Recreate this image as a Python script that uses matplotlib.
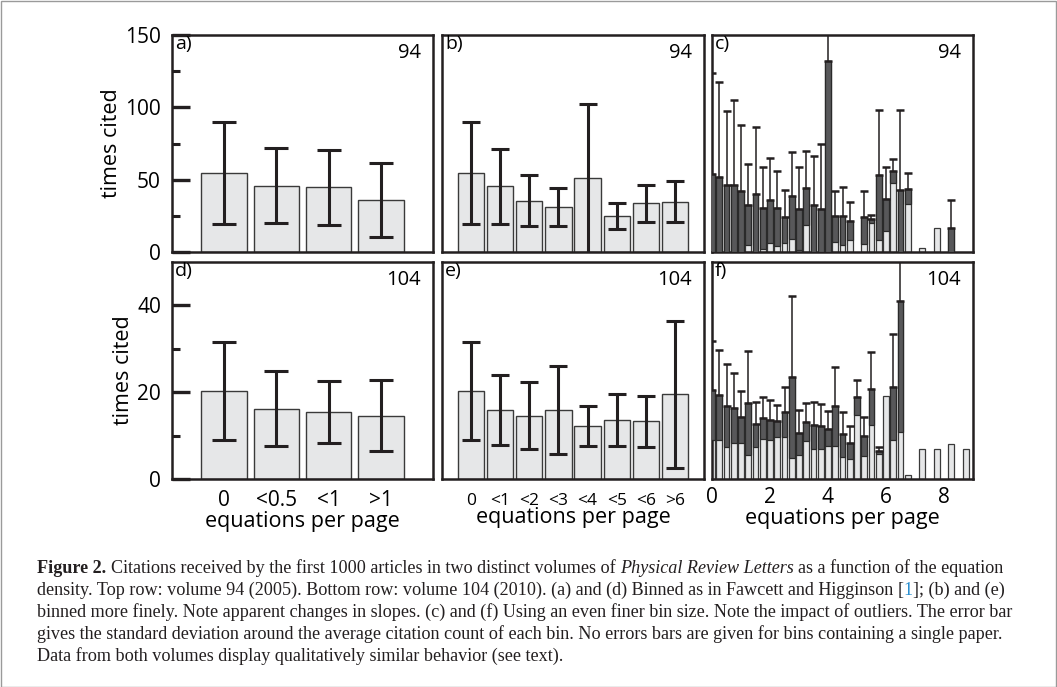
import numpy as np
import matplotlib
matplotlib.use('Agg')
import matplotlib.pyplot as plt
from matplotlib.transforms import IdentityTransform

# ---------------- data ----------------
coarse_labels = ['0', '<0.5', '<1', '>1']
a_mean = [54.4, 45.9, 44.7, 36.2]
a_std = [35.3, 25.7, 26.1, 25.6]
d_mean = [20.3, 16.2, 15.4, 14.6]
d_std = [11.3, 8.6, 7.1, 8.2]

fine_labels = ['0', '<1', '<2', '<3', '<4', '<5', '<6', '>6']
b_mean = [54.4, 45.4, 35.5, 31.3, 50.9, 24.9, 33.6, 34.8]
b_std = [35.3, 25.7, 17.7, 13.0, 51.6, 9.1, 12.9, 14.0]
e_mean = [20.3, 15.9, 14.6, 15.9, 12.3, 13.6, 13.3, 19.5]
e_std = [11.3, 8.1, 7.8, 10.2, 4.6, 6.1, 5.9, 16.9]

nan = np.nan
# finest bins (equations per page), bin centres
c_x = [0.0, 0.25, 0.5, 0.75, 1.0, 1.25, 1.5, 1.75, 2.0, 2.25, 2.5, 2.75,
       3.0, 3.25, 3.5, 3.75, 4.0, 4.25, 4.5, 4.75, 5.0, 5.25, 5.5, 5.75,
       6.0, 6.25, 6.5, 6.75, 7.0, 7.25, 7.5, 7.75, 8.0, 8.25]
c_mean = [54.0, 51.6, 46.3, 46.3, 42.0, 32.6, 39.8, 30.6, 35.6, 30.1, 24.3, 38.9,
          29.9, 44.4, 32.4, 29.4, 132.0, 24.8, 24.8, 21.5, nan, 24.1, 22.9, 53.5,
          36.6, 56.0, 42.6, 43.8, nan, 3.0, nan, 16.9, nan, 16.4]
c_std = [70.0, 66.0, 51.4, 59.0, 45.5, 28.0, 46.5, 28.4, 29.2, 25.7, 18.3, 29.9,
         28.7, 25.5, 34.0, 45.0, 180.0, 17.6, 20.3, 13.2, nan, 18.3, 3.0, 45.0,
         22.2, 8.4, 55.8, 10.6, nan, nan, nan, nan, nan, 19.6]

f_x = [0.0, 0.25, 0.5, 0.75, 1.0, 1.25, 1.5, 1.75, 2.0, 2.25, 2.5, 2.75,
       3.0, 3.25, 3.5, 3.75, 4.0, 4.25, 4.5, 4.75, 5.0, 5.25, 5.5, 5.75,
       6.0, 6.25, 6.5, 6.75, 7.0, 7.25, 7.5, 7.75, 8.0, 8.25, 8.5, 8.75]
f_mean = [20.4, 19.3, 16.9, 16.4, 14.2, 17.5, 12.6, 14.1, 13.5, 13.4, 15.4, 23.5,
          10.7, 13.2, 12.4, 12.1, 11.6, 16.8, 10.3, 8.4, 18.8, 9.8, 20.8, 6.5,
          19.1, 21.1, 41.1, 1.0, nan, 7.0, nan, 7.0, nan, 8.1, nan, 7.0]
f_std = [11.3, 10.4, 9.6, 8.0, 6.0, 12.0, 5.2, 4.8, 4.6, 3.7, 5.7, 18.6,
         5.1, 4.4, 5.4, 5.1, 4.0, 9.1, 5.2, 3.7, 4.1, 4.4, 8.4, 0.8,
         nan, 12.2, 30.3, nan, nan, nan, nan, nan, nan, nan, nan, nan]

finest_ticks = [0, 2, 4, 6, 8]

# ---------------- style ----------------
SANS = ['Open Sans', 'DejaVu Sans']
SERIF = ['Liberation Serif', 'DejaVu Serif']
DARK = '#231f20'
LIGHT = '#e6e7e8'
MID = '#58585a'
plt.rcParams['font.family'] = SANS

W, H = 1057, 687
fig = plt.figure(figsize=(W / 100, H / 100), dpi=100)


def px_axes(x0, x1, y0, y1):
    return fig.add_axes([x0 / W, 1 - y1 / H, (x1 - x0) / W, (y1 - y0) / H])


top = (35, 252)
bot = (262, 479)
cols = [(172, 433), (442, 704), (712, 973)]

axa = px_axes(cols[0][0], cols[0][1], *top)
axb = px_axes(cols[1][0], cols[1][1], *top)
axc = px_axes(cols[2][0], cols[2][1], *top)
axd = px_axes(cols[0][0], cols[0][1], *bot)
axe = px_axes(cols[1][0], cols[1][1], *bot)
axf = px_axes(cols[2][0], cols[2][1], *bot)

for ax in (axa, axb, axc, axd, axe, axf):
    for s in ax.spines.values():
        s.set_linewidth(1.8)
        s.set_color(DARK)
    ax.tick_params(axis='x', length=0)
    ax.tick_params(axis='y', length=0)
    ax.set_yticks([])
    ax.set_xticks([])


def coarse_panel(ax, labels, mean, std, width, capsize, ylim):
    pos = np.arange(len(labels))
    ax.bar(pos, mean, width=width, color=LIGHT, edgecolor='#3a3a3a', linewidth=1.0, zorder=2)
    ax.errorbar(pos, mean, yerr=std, fmt='none', ecolor=DARK, elinewidth=2.2,
                capsize=capsize, capthick=2.2, zorder=3)
    ax.set_xlim(-1, len(labels))
    ax.set_ylim(*ylim)


def finest_panel(ax, x, mean, std, ylim):
    x = np.asarray(x, float)
    m = np.asarray(mean, float)
    s = np.asarray(std, float)
    has = ~np.isnan(m)
    ax.bar(x[has], m[has], width=0.2, color=LIGHT, edgecolor='#3a3a3a', linewidth=0.9, zorder=2)
    he = has & ~np.isnan(s)
    low = np.clip(m[he] - s[he], 0, None)
    ax.bar(x[he], m[he] - low, bottom=low, width=0.2, color=MID, edgecolor='#2a2a2a',
           linewidth=0.9, zorder=3)
    ax.errorbar(x[he], m[he], yerr=[np.zeros(he.sum()), s[he]], fmt='none', ecolor=DARK,
                elinewidth=1.1, capsize=2.6, capthick=1.8, zorder=4)
    ax.set_xlim(0, 9)
    ax.set_ylim(*ylim)


coarse_panel(axa, coarse_labels, a_mean, a_std, 0.875, 8.5, (0, 150))
coarse_panel(axd, coarse_labels, d_mean, d_std, 0.875, 8.5, (0, 50))
coarse_panel(axb, fine_labels, b_mean, b_std, 0.9, 6.5, (0, 150))
coarse_panel(axe, fine_labels, e_mean, e_std, 0.9, 6.5, (0, 50))
finest_panel(axc, c_x, c_mean, c_std, (0, 150))
finest_panel(axf, f_x, f_mean, f_std, (0, 50))

# y ticks on left panels (inward)
for ax, major, minor in ((axa, [0, 50, 100, 150], [25, 75, 125]),
                         (axd, [0, 20, 40], [10, 30])):
    ax.set_yticks(major)
    ax.set_yticks(minor, minor=True)
    ax.tick_params(axis='y', which='major', direction='in', length=13, width=2.4,
                   color=DARK, labelsize=15, pad=8)
    ax.tick_params(axis='y', which='minor', direction='in', length=6, width=2.2, color=DARK)
    ax.set_ylabel('times cited', fontsize=15.5, labelpad=2)

# x tick labels on bottom row
axd.set_xticks(range(len(coarse_labels)))
axd.set_xticklabels(coarse_labels, fontsize=15)
axd.tick_params(axis='x', pad=8)
axe.set_xticks(range(len(fine_labels)))
axe.set_xticklabels(fine_labels, fontsize=12.5)
axe.tick_params(axis='x', pad=10)
axf.set_xticks(finest_ticks)
axf.set_xticklabels([str(t) for t in finest_ticks], fontsize=15)
axf.tick_params(axis='x', pad=6)
axd.set_xlabel('equations per page', fontsize=15.5, labelpad=0)
axe.set_xlabel('equations per page', fontsize=15.5, labelpad=-1)
axf.set_xlabel('equations per page', fontsize=15.5, labelpad=0)

# panel letters and volume numbers
for ax, letter, vol in ((axa, 'a)', '94'), (axb, 'b)', '94'), (axc, 'c)', '94'),
                        (axd, 'd)', '104'), (axe, 'e)', '104'), (axf, 'f)', '104')):
    ax.text(0.012, 1.0, letter, transform=ax.transAxes, ha='left', va='top', fontsize=14)
    ax.text(0.955, 0.965, vol, transform=ax.transAxes, ha='right', va='top', fontsize=14.5)

# ---------------- caption ----------------
renderer = fig.canvas.get_renderer()


def measure(s, size, **kw):
    t = fig.text(0, 0, s, fontsize=size, family=SERIF, **kw)
    w = t.get_window_extent(renderer).width
    t.remove()
    return w


cap_lines = [
    [("Figure 2.", dict(weight='bold'), True),
     ("Citations received by the first 1000 articles in two distinct volumes of", {}, True),
     ("Physical Review Letters", dict(style='italic'), True),
     ("as a function of the equation", {}, True)],
    [("density. Top row: volume 94 (2005). Bottom row: volume 104 (2010). (a) and (d) Binned as in Fawcett and Higginson", {}, True),
     ("[", {}, True), ("1", {'color': '#2a8fd0'}, False),
     ("]; (b) and (e)", {}, False)],
    [("binned more finely. Note apparent changes in slopes. (c) and (f) Using an even finer bin size. Note the impact of outliers. The error bar", {}, True)],
    [("gives the standard deviation around the average citation count of each bin. No errors bars are given for bins containing a single paper.", {}, True)],
    [("Data from both volumes display qualitatively similar behavior (see text).", {}, True)],
]

# fit font size so that the third line spans the caption width
ref = cap_lines[2][0][0]
cap_size = 11.0 * 978.0 / measure(ref, 11.0)
space = measure('x x', cap_size) - measure('xx', cap_size)
x_left = 37
baselines = [573, 595, 617, 639, 661]
for line, yb in zip(cap_lines, baselines):
    x = x_left
    for i, (txt, kw, sp) in enumerate(line):
        kw = dict(kw)
        color = kw.pop('color', '#231f20')
        if i > 0 and sp:
            x += space
        t = fig.text(x, H - yb, txt, transform=IdentityTransform(), fontsize=cap_size,
                     family=SERIF, color=color, ha='left', va='baseline', **kw)
        x += t.get_window_extent(renderer).width

# thin frame around the figure
fig.add_artist(plt.Rectangle((0.5 / W, 0.5 / H), 1 - 1.5 / W, 1 - 1.5 / H, transform=fig.transFigure,
                             fill=False, edgecolor='#9a9a9a', linewidth=1.0))

fig.savefig('out.png', dpi=100)
